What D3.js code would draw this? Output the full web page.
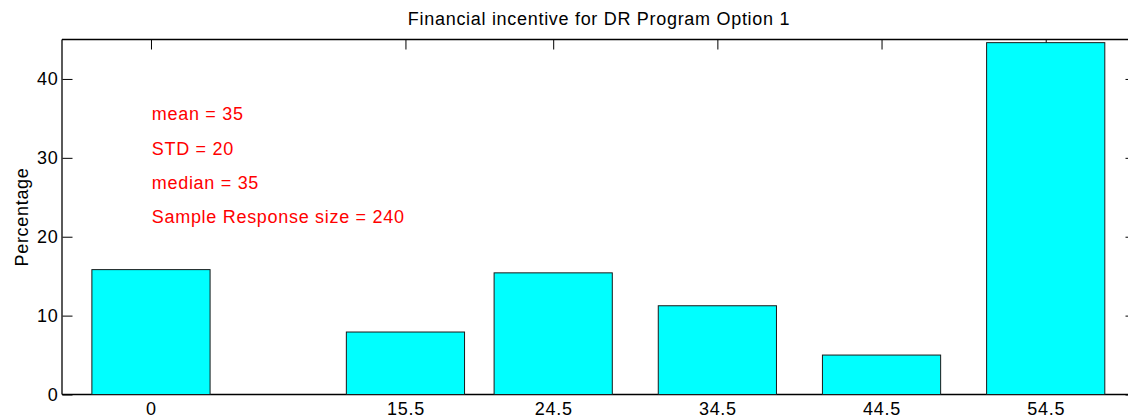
<!DOCTYPE html>
<html>
<head>
<meta charset="utf-8">
<script src="https://cdn.jsdelivr.net/npm/d3@7"></script>
<style>
  html, body { margin: 0; padding: 0; background: #fff; }
  svg { display: block; overflow: hidden; }
  text { font-family: "Liberation Sans", Arial, Helvetica, sans-serif; font-size: 18px; letter-spacing: 0.7px; fill: #000; }
</style>
</head>
<body>
<div id="chart"></div>
<script>
// ---- data ----
const categories = [0, 15.5, 24.5, 34.5, 44.5, 54.5];
const percentages = [15.83, 7.92, 15.42, 11.25, 5.0, 44.6];
const yTicks = [0, 10, 20, 30, 40];
const title = "Financial incentive for DR Program Option 1";
const yLabel = "Percentage";
const statLines = ["mean = 35", "STD = 20", "median = 35", "Sample Response size = 240"];
const statY = [34.8, 30.4, 26.0, 21.7];
const statX = 0.05;
const barWidthUnits = 7.2;

// ---- layout ----
const W = 1128, H = 419;
const L = 62, R = 1136, T = 39.5, B = 394.5;

const svg = d3.select("#chart").append("svg").attr("width", W).attr("height", H);

const x = d3.scaleLinear().domain([-5.42, 60]).range([L, R]);
const y = d3.scaleLinear().domain([0, 45]).range([B, T]);

const tickLen = 10;

// axes (ticks inside, drawn beneath bars)
const g = svg.append("g");
// left axis
const leftAxis = g.append("g").attr("transform", `translate(${L + 0.5},0)`)
  .call(d3.axisLeft(y).tickValues(yTicks).tickSize(-tickLen).tickPadding(4).tickFormat(d3.format("d")));
// right axis ticks
g.append("g").attr("transform", `translate(${R - 0.5},0)`)
  .call(d3.axisRight(y).tickValues(yTicks).tickSize(-tickLen).tickFormat(""));
// bottom axis
const bottomAxis = g.append("g").attr("transform", `translate(0,${B})`)
  .call(d3.axisBottom(x).tickValues(categories).tickSize(-tickLen).tickPadding(8).tickFormat(d => String(d)));
// top axis
g.append("g").attr("transform", `translate(0,${T})`)
  .call(d3.axisTop(x).tickValues(categories).tickSize(-tickLen).tickFormat(""));

g.selectAll(".domain").remove();
g.selectAll(".tick line").attr("stroke", "#000").attr("stroke-width", 1);
g.selectAll(".tick text").attr("fill", "#000").style("font-size", "18px")
  .style("font-family", '"Liberation Sans", Arial, sans-serif');

// box lines
svg.append("line").attr("x1", L).attr("x2", R).attr("y1", T).attr("y2", T).attr("stroke", "#000").attr("stroke-width", 1.3);
svg.append("line").attr("x1", L).attr("x2", R).attr("y1", B).attr("y2", B).attr("stroke", "#000").attr("stroke-width", 1.3);
svg.append("line").attr("x1", L).attr("x2", L).attr("y1", T).attr("y2", B).attr("stroke", "#000").attr("stroke-width", 1.3);
svg.append("line").attr("x1", R).attr("x2", R).attr("y1", T).attr("y2", B).attr("stroke", "#000").attr("stroke-width", 1.3);

// bars
svg.append("g").selectAll("rect")
  .data(categories.map((c, i) => ({ c, v: percentages[i] })))
  .join("rect")
  .attr("x", d => x(d.c - barWidthUnits / 2))
  .attr("width", d => x(d.c + barWidthUnits / 2) - x(d.c - barWidthUnits / 2))
  .attr("y", d => y(d.v))
  .attr("height", d => y(0) - y(d.v))
  .attr("fill", "#00ffff")
  .attr("stroke", "#1a1a1a")
  .attr("stroke-width", 1);

// stat annotations
svg.append("g").selectAll("text")
  .data(statLines.map((s, i) => ({ s, yv: statY[i] })))
  .join("text")
  .attr("x", x(statX))
  .attr("y", d => y(d.yv))
  .style("fill", "#ff0000")
  .text(d => d.s);

// title
svg.append("text")
  .attr("x", (L + R) / 2)
  .attr("y", 25)
  .attr("text-anchor", "middle")
  .text(title);

// y label
svg.append("text")
  .attr("transform", `translate(28,${(T + B) / 2}) rotate(-90)`)
  .attr("text-anchor", "middle")
  .text(yLabel);
</script>
</body>
</html>
